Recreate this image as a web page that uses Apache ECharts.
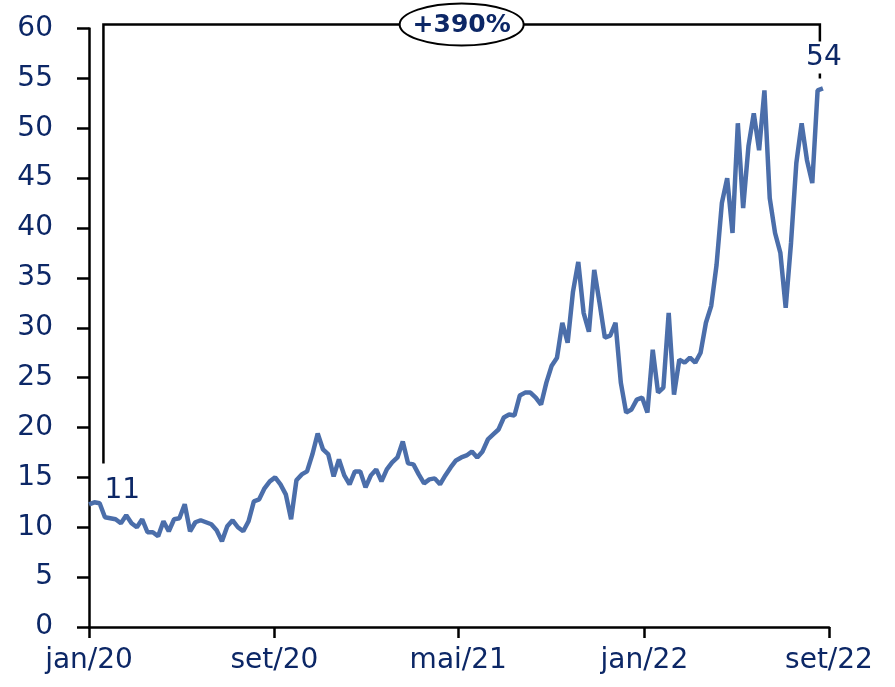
<!DOCTYPE html>
<html>
<head>
<meta charset="utf-8">
<script src="https://cdn.jsdelivr.net/npm/echarts@6/dist/echarts.min.js"></script>
<style>
  html, body { margin: 0; padding: 0; background: #fff; }
  #chart { width: 895px; height: 687px; }
</style>
</head>
<body>
<div id="chart"></div>
<script>
// weekly closes, starting on the first week of jan/20
const START = '2020-01-01'
const WEEKLY = [
  12.3, 12.5, 12.4, 11.0, 10.9, 10.8, 10.4, 11.2, 10.4, 10.0,
  10.8, 9.5, 9.5, 9.1, 10.6, 9.6, 10.8, 10.9, 12.3, 9.6,
  10.5, 10.7, 10.5, 10.3, 9.7, 8.6, 10.1, 10.7, 10.0, 9.6,
  10.6, 12.6, 12.8, 13.9, 14.6, 15.0, 14.3, 13.3, 10.8, 14.7,
  15.3, 15.6, 17.3, 19.4, 17.8, 17.3, 15.1, 16.8, 15.2, 14.3,
  15.6, 15.6, 14.0, 15.2, 15.8, 14.6, 15.8, 16.5, 17.0, 18.6,
  16.4, 16.3, 15.3, 14.4, 14.8, 14.9, 14.3, 15.2, 16.0, 16.7,
  17.0, 17.2, 17.6, 17.0, 17.6, 18.8, 19.3, 19.8, 21.0, 21.3,
  21.2, 23.2, 23.5, 23.5, 23.0, 22.3, 24.5, 26.2, 27.0, 30.5,
  28.5, 33.6, 36.6, 31.5, 29.6, 35.8, 32.5, 29.0, 29.2, 30.5,
  24.5, 21.5, 21.8, 22.8, 23.0, 21.5, 27.8, 23.5, 24.0, 31.5,
  23.3, 26.8, 26.5, 27.0, 26.5, 27.5, 30.5, 32.2, 36.3, 42.5,
  45.0, 39.5, 50.5, 42.0, 48.2, 51.5, 47.8, 53.8, 43.0, 39.5,
  37.5, 32.0, 38.5, 46.5, 50.5, 46.8, 44.5, 53.8, 54.0,
]
const TICK_DATES = ['2020-01-01', '2020-09-01', '2021-05-01', '2022-01-01', '2022-09-01']
const TICK_LABELS = ['jan/20', 'set/20', 'mai/21', 'jan/22', 'set/22']

// annotation: bracket from start to end of the period
const BRACKET_FROM = '2020-01-20'
const BRACKET_TO = '2022-08-20'
const BRACKET_TOP = 60.4
const BRACKET_LOW_LEFT = 16.4
const BRACKET_LOW_RIGHT = 55.0
const CHANGE_LABEL = '+390%'
const START_LABEL = '11'
const END_LABEL = '54'

const NAVY = '#0c2766'
const LINE = '#4b6eaa'
const FONT = 'DejaVu Sans'

const DAY = 24 * 3600 * 1000

// x axis is counted in days since START
function dayOf(s) {
  const [y, m, d] = s.split('-').map(Number)
  const [y0, m0, d0] = START.split('-').map(Number)
  return Math.round((Date.UTC(y, m - 1, d) - Date.UTC(y0, m0 - 1, d0)) / DAY)
}

const seriesData = WEEKLY.map((v, i) => [i * 7, v])
const tickDays = TICK_DATES.map(dayOf)

const chart = echarts.init(document.getElementById('chart'))

chart.setOption({
  animation: false,
  backgroundColor: '#fff',
  grid: { left: 89, right: 66, top: 28.5, bottom: 60 },
  xAxis: {
    type: 'value',
    min: tickDays[0],
    max: tickDays[tickDays.length - 1],
    axisLine: { lineStyle: { color: '#000', width: 2.5 } },
    axisTick: {
      show: true,
      length: 11,
      customValues: tickDays,
      lineStyle: { color: '#000', width: 2.5 },
    },
    axisLabel: {
      customValues: tickDays,
      margin: 20,
      color: NAVY,
      fontFamily: FONT,
      fontSize: 28,
      formatter: (v) => {
        const i = tickDays.indexOf(Math.round(v))
        return i >= 0 ? TICK_LABELS[i] : ''
      },
    },
    splitLine: { show: false },
  },
  yAxis: {
    type: 'value',
    min: 0,
    max: 60,
    interval: 5,
    axisLine: { show: true, lineStyle: { color: '#000', width: 2.5 } },
    axisTick: { show: true, length: 12, lineStyle: { color: '#000', width: 2.5 } },
    axisLabel: {
      margin: 36,
      color: NAVY,
      fontFamily: FONT,
      fontSize: 28,
    },
    splitLine: { show: false },
  },
  series: [
    {
      type: 'line',
      data: seriesData,
      showSymbol: false,
      lineStyle: { color: LINE, width: 4.5 },
      z: 3,
    },
  ],
})

function px(date, v) {
  return chart.convertToPixel({ gridIndex: 0 }, [dayOf(date), v])
}

const topL = px(BRACKET_FROM, BRACKET_TOP)
const botL = px(BRACKET_FROM, BRACKET_LOW_LEFT)
const topR = px(BRACKET_TO, BRACKET_TOP)
const botR = px(BRACKET_TO, BRACKET_LOW_RIGHT)
const midX = (topL[0] + topR[0]) / 2

chart.setOption({
  graphic: [
    {
      type: 'polyline',
      z: 10,
      shape: { points: [botL, topL, topR, botR] },
      style: { stroke: '#000', lineWidth: 2.5, fill: null },
    },
    {
      type: 'ellipse',
      z: 11,
      shape: { cx: midX, cy: topL[1], rx: 62, ry: 21 },
      style: { fill: '#fff', stroke: '#000', lineWidth: 2 },
    },
    {
      type: 'text',
      z: 12,
      x: midX,
      y: topL[1] + 1,
      style: {
        text: CHANGE_LABEL,
        fill: NAVY,
        font: 'bold 25px "DejaVu Sans"',
        align: 'center',
        verticalAlign: 'middle',
      },
    },
    {
      type: 'text',
      z: 12,
      x: botL[0] + 1,
      y: botL[1] + 27,
      style: {
        text: START_LABEL,
        fill: NAVY,
        font: '28px "DejaVu Sans"',
        align: 'left',
        verticalAlign: 'middle',
      },
    },
    {
      type: 'text',
      z: 12,
      x: botR[0] + 4,
      y: botR[1] - 21,
      style: {
        text: END_LABEL,
        fill: NAVY,
        font: '28px "DejaVu Sans"',
        align: 'center',
        verticalAlign: 'middle',
        backgroundColor: '#fff',
        padding: [2, 1, 2, 1],
      },
    },
  ],
})
</script>
</body>
</html>
